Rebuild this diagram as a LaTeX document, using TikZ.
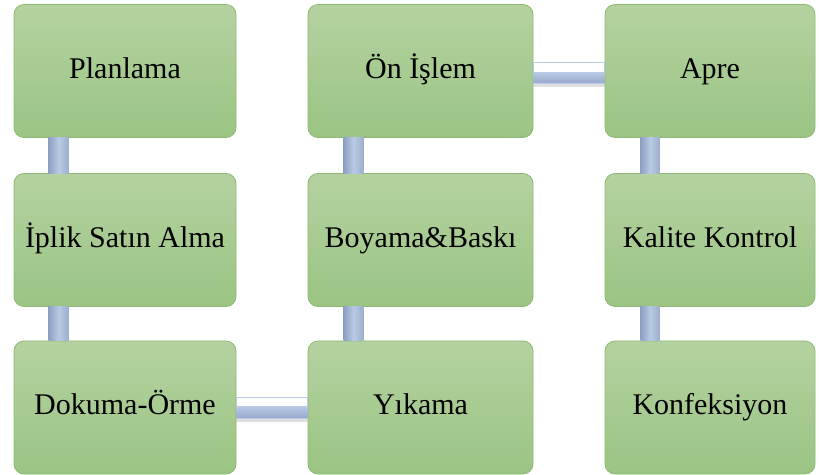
\documentclass[tikz,border=0pt]{standalone}
\usepackage{fontspec}
\setmainfont{Liberation Serif}
\usetikzlibrary{calc}
\definecolor{boxtop}{RGB}{180,210,160}
\definecolor{boxbot}{RGB}{155,196,132}
\definecolor{boxline}{RGB}{140,186,116}
\definecolor{linkdark}{RGB}{140,160,196}
\definecolor{linklight}{RGB}{184,202,228}
\tikzstyle{step box}=[draw=boxline, rounded corners=5pt, top color=boxtop, bottom color=boxbot, minimum height=66.5pt, font=\fontsize{15}{18}\selectfont, text=black, inner sep=0pt, text height=0.93em, text depth=0.2em]
\tikzstyle{vlink}=[left color=linkdark, right color=linkdark!85!white, middle color=linklight]
\tikzstyle{hlink top}=[draw=linklight, line width=0.4pt, fill=white]
\tikzstyle{hlink bot}=[top color=linklight, bottom color=linkdark!90!white]

\begin{document}
\begin{tikzpicture}[x=0.5pt, y=-0.5pt]
\useasboundingbox (0,0) rectangle (819,475);
% Link shadows
    \fill[gray!25] (236,418) rectangle (308,422);
    \fill[gray!25] (533,83) rectangle (605,87);
% Boxes
    \node[step box, minimum width=111pt] (plan) at (125,71) {Planlama};
    \node[step box, minimum width=111pt] (iplik) at (125,240) {İplik Satın Alma};
    \node[step box, minimum width=111pt] (dokuma) at (125,407.5) {Dokuma-Örme};
    \node[step box, minimum width=112.5pt] (onislem) at (420.5,71) {Ön İşlem};
    \node[step box, minimum width=112.5pt] (boyama) at (420.5,240) {Boyama\&Baskı};
    \node[step box, minimum width=112.5pt] (yikama) at (420.5,407.5) {Yıkama};
    \node[step box, minimum width=105pt] (apre) at (710,71) {Apre};
    \node[step box, minimum width=105pt] (kalite) at (710,240) {Kalite Kontrol};
    \node[step box, minimum width=105pt] (konf) at (710,407.5) {Konfeksiyon};
% Vertical links
    \path[vlink] ($(plan.south west)+(35,0)$) rectangle ($(iplik.north west)+(55,0)$);
    \path[vlink] ($(iplik.south west)+(35,0)$) rectangle ($(dokuma.north west)+(55,0)$);
    \path[vlink] ($(onislem.south west)+(36,0)$) rectangle ($(boyama.north west)+(56,0)$);
    \path[vlink] ($(boyama.south west)+(36,0)$) rectangle ($(yikama.north west)+(56,0)$);
    \path[vlink] ($(apre.south west)+(36,0)$) rectangle ($(kalite.north west)+(55,0)$);
    \path[vlink] ($(kalite.south west)+(36,0)$) rectangle ($(konf.north west)+(55,0)$);
% Horizontal links
    \path[hlink top] ($(dokuma.east)+(0,-10.5)$) rectangle ($(yikama.west)+(0,10.5)$);
    \path[hlink bot] ($(dokuma.east)+(0,-1)$) rectangle ($(yikama.west)+(0,10.5)$);
    \path[hlink top] ($(onislem.east)+(0,-9)$) rectangle ($(apre.west)+(0,12)$);
    \path[hlink bot] ($(onislem.east)+(0,1.5)$) rectangle ($(apre.west)+(0,12)$);
\end{tikzpicture}
\end{document}
